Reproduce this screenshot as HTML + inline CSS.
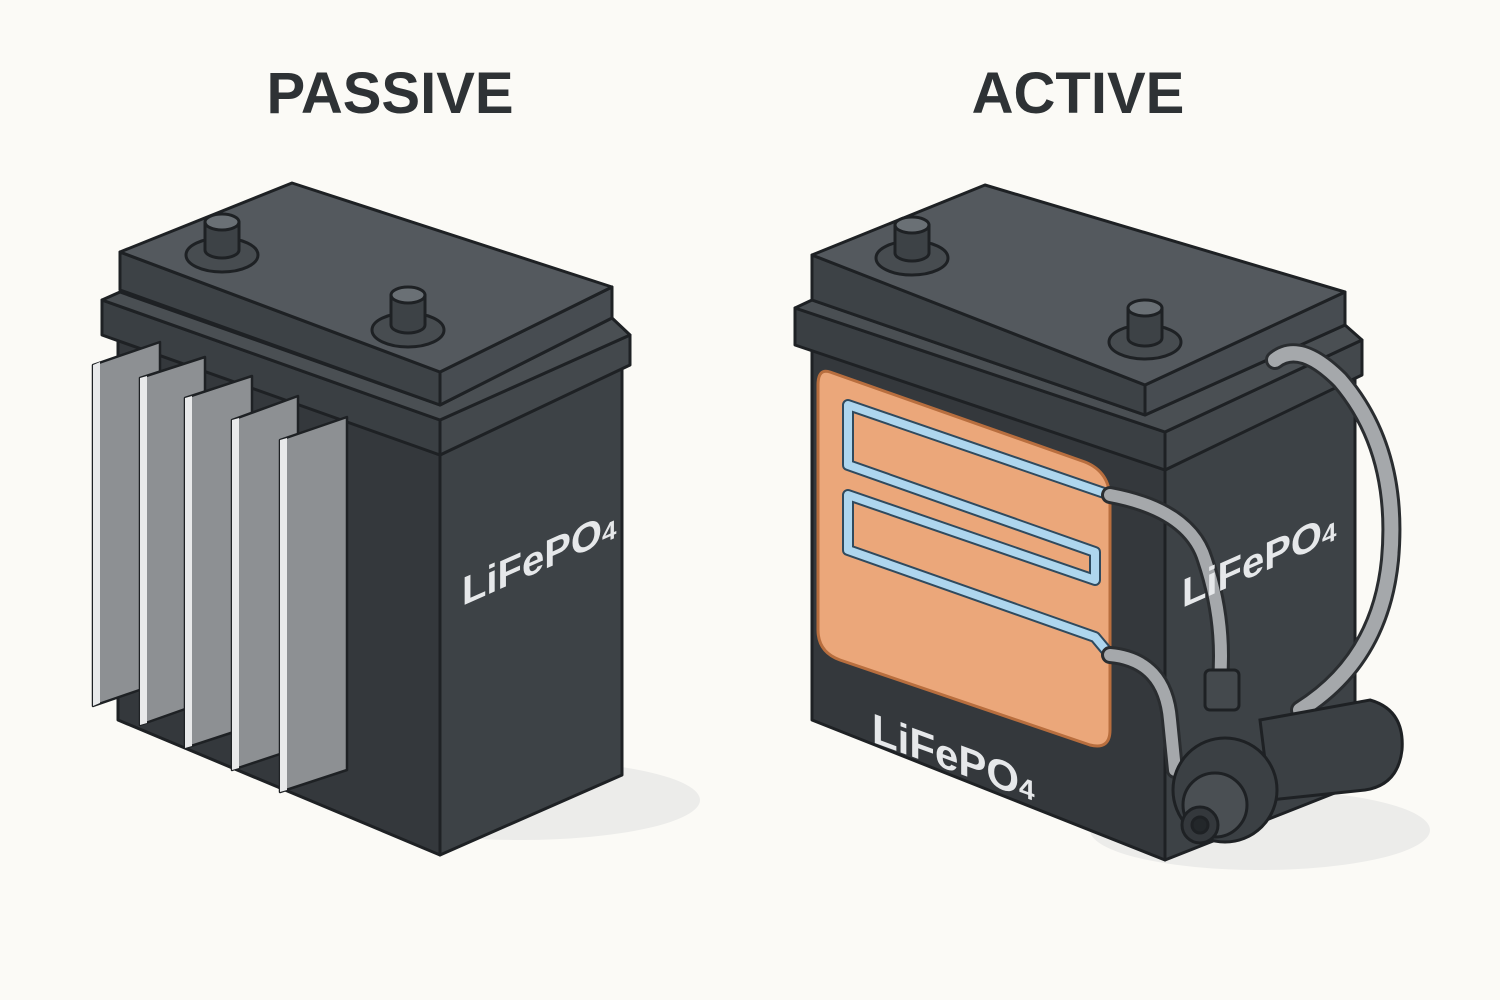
<!DOCTYPE html>
<html><head><meta charset="utf-8"><style>
html,body{margin:0;padding:0;background:#fbfaf6;}
svg{display:block;}
</style></head><body>
<svg width="1500" height="1000" viewBox="0 0 1500 1000" xmlns="http://www.w3.org/2000/svg">
<rect width="1500" height="1000" fill="#fbfaf6"/>
<g font-family="Liberation Sans, sans-serif" font-weight="bold" fill="#2e3235" text-anchor="middle">
<text x="390" y="113" font-size="58">PASSIVE</text>
<text x="1078" y="113" font-size="58">ACTIVE</text>
</g>
<ellipse cx="520" cy="800" rx="180" ry="40" fill="#ececea"/>
<ellipse cx="1260" cy="830" rx="170" ry="40" fill="#ececea"/>

<g stroke="#1e2124" stroke-width="3" stroke-linejoin="round">
<polygon points="118,335 440,455 440,855 118,720" fill="#34383c"/>
<polygon points="440,455 622,365 622,775 440,855" fill="#3d4246"/>
<polygon points="102,300 440,420 440,455 102,335" fill="#3a3f43"/>
<polygon points="440,420 630,335 630,365 440,455" fill="#43484c"/>
<polygon points="102,300 120,292 440,405 612,318 630,335 440,420" fill="#4a4f53"/>
<polygon points="120,252 440,372 440,405 120,290" fill="#3d4246"/>
<polygon points="440,372 612,287 612,318 440,405" fill="#474c51"/>
<polygon points="120,252 292,183 612,287 440,372" fill="#54595e"/>
<ellipse cx="222" cy="255" rx="36" ry="17" fill="#474c50"/>
<path d="M205,222 v28 a17,8 0 0 0 34,0 v-28 z" fill="#3d4246"/>
<ellipse cx="222" cy="222" rx="17" ry="8" fill="#6a7075"/>
<ellipse cx="408" cy="330" rx="36" ry="17" fill="#474c50"/>
<path d="M391,295 v30 a17,8 0 0 0 34,0 v-30 z" fill="#3d4246"/>
<ellipse cx="408" cy="295" rx="17" ry="8" fill="#6a7075"/>
<g stroke-width="2.5">
<polygon points="93,365 160,342 160,683 93,706" fill="#8d9093"/>
<polygon points="140,378 205,357 205,702 140,725" fill="#8d9093"/>
<polygon points="185,398 252,376 252,726 185,748" fill="#8d9093"/>
<polygon points="232,420 298,396 298,748 232,770" fill="#8d9093"/>
<polygon points="280,440 347,417 347,770 280,792" fill="#8d9093"/>
</g>
<g stroke="none" fill="#e8e9ea">
<polygon points="93,365 100,362 100,703 93,706"/>
<polygon points="140,378 147,376 147,723 140,725"/>
<polygon points="185,398 192,396 192,746 185,748"/>
<polygon points="232,420 239,418 239,768 232,770"/>
<polygon points="280,440 287,438 287,790 280,792"/>
</g>
</g>
<text transform="translate(462,606) skewY(-24)" font-family="Liberation Sans, sans-serif" font-weight="bold" font-size="40" fill="#e6e8ea">LiFePO<tspan font-size="26">4</tspan></text>

<g stroke="#1e2124" stroke-width="3" stroke-linejoin="round">
<polygon points="812,345 1165,470 1165,860 812,720" fill="#34383c"/>
<polygon points="1165,470 1355,375 1355,785 1165,860" fill="#3d4246"/>
<polygon points="795,308 1165,432 1165,470 795,345" fill="#3a3f43"/>
<polygon points="1165,432 1362,340 1362,375 1165,470" fill="#43484c"/>
<polygon points="795,308 812,300 1145,415 1345,325 1362,340 1165,432" fill="#4a4f53"/>
<polygon points="812,255 1145,385 1145,415 812,300" fill="#3d4246"/>
<polygon points="1145,385 1345,292 1345,325 1145,415" fill="#474c51"/>
<polygon points="812,255 985,185 1345,292 1145,385" fill="#54595e"/>
<ellipse cx="912" cy="258" rx="36" ry="17" fill="#474c50"/>
<path d="M895,225 v28 a17,8 0 0 0 34,0 v-28 z" fill="#3d4246"/>
<ellipse cx="912" cy="225" rx="17" ry="8" fill="#6a7075"/>
<ellipse cx="1145" cy="342" rx="36" ry="17" fill="#474c50"/>
<path d="M1128,308 v30 a17,8 0 0 0 34,0 v-30 z" fill="#3d4246"/>
<ellipse cx="1145" cy="308" rx="17" ry="8" fill="#6a7075"/>
<path d="M830,372 L1085,462 Q1110,472 1110,500 L1110,730 Q1110,750 1090,745 L840,660 Q818,652 818,630 L818,385 Q818,368 830,372 Z" fill="#eba77a" stroke="#b86e3e"/>
</g>
<g fill="none" stroke-linejoin="round" stroke-linecap="round">
<path d="M1110,495 L848,405 L848,465 L1095,552 L1095,580 L848,495 L848,550 L1095,637 L1110,655" stroke="#2f4a5e" stroke-width="12"/>
<path d="M1110,495 L848,405 L848,465 L1095,552 L1095,580 L848,495 L848,550 L1095,637 L1110,655" stroke="#aed6ee" stroke-width="8"/>
</g>
<g fill="none" stroke-linecap="round">
<path d="M1110,495 Q1190,510 1205,560 Q1225,620 1220,680" stroke="#2a2d30" stroke-width="18"/>
<path d="M1110,495 Q1190,510 1205,560 Q1225,620 1220,680" stroke="#a5a8ab" stroke-width="12"/>
<path d="M1110,655 Q1165,660 1170,720 L1175,770" stroke="#2a2d30" stroke-width="18"/>
<path d="M1110,655 Q1165,660 1170,720 L1175,770" stroke="#a5a8ab" stroke-width="12"/>
<path d="M1275,360 Q1300,340 1340,380 Q1400,450 1390,560 Q1380,660 1300,710" stroke="#2a2d30" stroke-width="20"/>
<path d="M1275,360 Q1300,340 1340,380 Q1400,450 1390,560 Q1380,660 1300,710" stroke="#a5a8ab" stroke-width="14"/>
</g>
<g stroke="#1e2124" stroke-width="3">
<path d="M1260,720 L1370,700 Q1405,710 1402,750 Q1398,785 1365,790 L1270,800 Z" fill="#3b4044"/>
<rect x="1205" y="670" width="34" height="40" rx="5" fill="#44494d"/>
<circle cx="1225" cy="790" r="52" fill="#3b4044"/>
<circle cx="1215" cy="805" r="32" fill="#4a4f53"/>
<circle cx="1200" cy="825" r="18" fill="#34383c"/>
<circle cx="1200" cy="825" r="8" fill="#23272a"/>
</g>
<text transform="translate(872,742) skewY(20)" font-family="Liberation Sans, sans-serif" font-weight="bold" font-size="42" fill="#e6e8ea">LiFePO<tspan font-size="28">4</tspan></text>
<text transform="translate(1182,608) skewY(-24)" font-family="Liberation Sans, sans-serif" font-weight="bold" font-size="40" fill="#e6e8ea">LiFePO<tspan font-size="26">4</tspan></text>
</svg>
</body></html>
